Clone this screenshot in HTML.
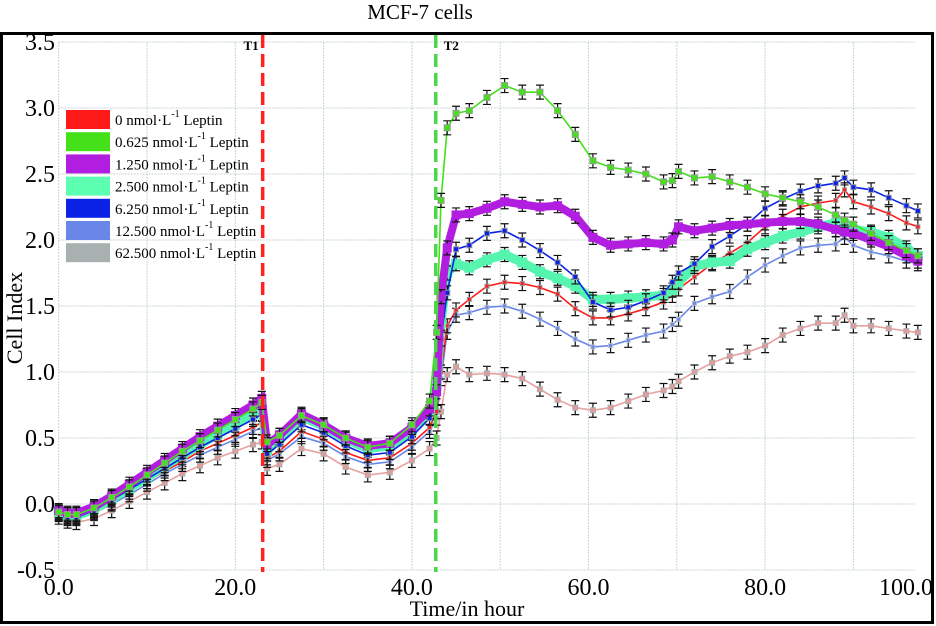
<!DOCTYPE html>
<html><head><meta charset="utf-8"><style>
body{margin:0;background:#fff;}
svg{display:block;font-family:"Liberation Serif",serif;}
</style></head><body>
<svg id="chart" width="936" height="626" viewBox="0 0 936 626" xmlns="http://www.w3.org/2000/svg">
<text x="420" y="19" font-size="21" text-anchor="middle">MCF-7 cells</text>
<rect x="1.5" y="33.5" width="931" height="589" fill="none" stroke="#000" stroke-width="3"/>
<g id="grid"></g>
<g id="axes"></g>
<g id="series"></g>
<g id="markers"></g>
<g id="legend"></g>
<text transform="translate(22,318) rotate(-90)" font-size="22" text-anchor="middle">Cell Index</text>
<text x="467" y="616" font-size="22" text-anchor="middle">Time/in hour</text>
</svg>
<script>
const times=[0,1,2,4,6,8,10,12,14,16,18,20,22,23,23.6,25,27.5,30,32.5,35,37.5,40,42,42.8,43.3,44,45,46.5,48.5,50.5,52.5,54.5,56.5,58.5,60.5,62.5,64.5,66.5,68.5,69.5,70.2,72,74,76,78,80,82,84,86,88,89,90,92,94,96,97.3];
const seriesNames=["0 nmol·L","0.625 nmol·L","1.250 nmol·L","2.500 nmol·L","6.250 nmol·L","12.500 nmol·L","62.500 nmol·L"];
const valsRed=[-0.07,-0.10,-0.10,-0.06,0.01,0.09,0.17,0.25,0.32,0.40,0.46,0.52,0.58,0.62,0.35,0.40,0.55,0.49,0.39,0.33,0.35,0.46,0.58,0.70,1.00,1.35,1.47,1.55,1.65,1.68,1.67,1.64,1.59,1.48,1.41,1.41,1.44,1.48,1.53,1.58,1.63,1.72,1.82,1.90,1.98,2.10,2.18,2.25,2.28,2.30,2.38,2.29,2.25,2.20,2.13,2.10];
const valsGreen=[-0.06,-0.08,-0.08,-0.03,0.05,0.13,0.22,0.31,0.40,0.48,0.56,0.64,0.72,0.77,0.47,0.52,0.67,0.60,0.50,0.43,0.46,0.60,0.78,1.30,2.30,2.85,2.96,2.98,3.08,3.17,3.12,3.12,2.98,2.80,2.60,2.55,2.53,2.50,2.44,2.45,2.52,2.47,2.48,2.44,2.40,2.35,2.32,2.29,2.25,2.19,2.15,2.12,2.05,1.98,1.92,1.88];
const valsPurple=[-0.05,-0.07,-0.07,-0.02,0.06,0.15,0.24,0.33,0.42,0.51,0.59,0.67,0.75,0.80,0.45,0.52,0.68,0.60,0.50,0.44,0.46,0.58,0.72,0.85,1.57,1.94,2.19,2.20,2.24,2.29,2.27,2.25,2.26,2.18,2.02,1.96,1.97,1.98,1.97,2.00,2.10,2.07,2.09,2.11,2.12,2.13,2.14,2.14,2.12,2.08,2.06,2.05,2.0,1.95,1.88,1.84];
const valsCyan=[-0.06,-0.09,-0.09,-0.04,0.04,0.12,0.20,0.29,0.37,0.45,0.53,0.60,0.68,0.72,0.40,0.50,0.66,0.59,0.49,0.42,0.44,0.56,0.70,0.90,1.37,1.75,1.82,1.79,1.85,1.89,1.83,1.76,1.71,1.65,1.55,1.55,1.56,1.57,1.58,1.62,1.68,1.80,1.83,1.84,1.93,1.98,2.03,2.06,2.10,2.13,2.12,2.08,2.06,2.02,1.94,1.88];
const valsBlue=[-0.07,-0.10,-0.10,-0.05,0.03,0.11,0.19,0.27,0.35,0.43,0.50,0.57,0.64,0.68,0.38,0.45,0.60,0.54,0.44,0.37,0.39,0.51,0.65,0.80,1.25,1.60,1.93,1.96,2.05,2.07,2.00,1.92,1.83,1.72,1.53,1.47,1.49,1.54,1.60,1.68,1.75,1.82,1.95,2.03,2.12,2.24,2.31,2.37,2.41,2.43,2.47,2.40,2.38,2.32,2.26,2.22];
const valsLightBlue=[-0.08,-0.11,-0.11,-0.07,0.00,0.07,0.15,0.23,0.30,0.37,0.43,0.49,0.55,0.58,0.33,0.38,0.51,0.46,0.36,0.30,0.32,0.43,0.55,0.65,0.95,1.30,1.43,1.45,1.49,1.50,1.46,1.40,1.33,1.25,1.19,1.20,1.24,1.28,1.31,1.36,1.40,1.52,1.57,1.61,1.72,1.81,1.88,1.94,1.96,1.97,2.02,1.96,1.91,1.88,1.84,1.82];
const valsGray=[-0.10,-0.13,-0.14,-0.11,-0.05,0.02,0.09,0.16,0.23,0.29,0.35,0.40,0.45,0.47,0.27,0.30,0.42,0.38,0.28,0.22,0.24,0.33,0.42,0.50,0.70,0.98,1.04,0.98,0.99,0.98,0.95,0.87,0.79,0.73,0.71,0.73,0.78,0.83,0.86,0.89,0.93,1.00,1.07,1.12,1.15,1.20,1.28,1.33,1.37,1.37,1.43,1.35,1.35,1.33,1.31,1.30];
const xTicks=[0,20,40,60,80,100];
const xTickLabels=["0.0","20.0","40.0","60.0","80.0","100.0"];
const yTicks=[-0.5,0,0.5,1,1.5,2,2.5,3,3.5];
const yTickLabels=["-0.5","0.0","0.5","1.0","1.5","2.0","2.5","3.0","3.5"];
const treatTimes=[23.1,42.7];
const treatLabels=["T1","T2"];

const NS="http://www.w3.org/2000/svg";
const X0=58.7,XS=8.83,Y0=504,YS=132,XR=915;
const xs=t=>X0+t*XS, ys=v=>Y0-v*YS;
function mk(tag,attrs,parent){const e=document.createElementNS(NS,tag);for(const k in attrs)e.setAttribute(k,attrs[k]);parent.appendChild(e);return e;}
const grid=document.getElementById('grid'),axes=document.getElementById('axes'),ser=document.getElementById('series'),mkg=document.getElementById('markers'),leg=document.getElementById('legend');
for(let t=0;t<=90;t+=10){const l=mk('line',{x1:xs(t),x2:xs(t),y1:ys(3.5),y2:ys(-0.5),stroke:'#c5d5d8','stroke-width':1,'stroke-dasharray':'2,1'},grid);

}
yTicks.forEach((v,i)=>{const l=mk('line',{x1:X0,x2:XR,y1:ys(v),y2:ys(v),stroke:'#c5d5d8','stroke-width':1,'stroke-dasharray':'2,1'},grid);


const t=mk('text',{x:55,y:ys(v)+8,'font-size':24,'text-anchor':'end'},axes);t.textContent=yTickLabels[i];

});
xTicks.forEach((v,i)=>{let x=xs(v),anc='middle';if(v===100){x=933;anc='end';}
const t=mk('text',{x:x,y:595,'font-size':24,'text-anchor':anc},axes);t.textContent=xTickLabels[i];

});
const defs=[
 {vals:valsGray,line:'#e8a0a0',mk:'#e89a9a',halo:'#a8b0b0',sz:5,name:'series-62-500'},
 {vals:valsLightBlue,line:'#6a86e8',mk:'#6a86e8',halo:'#b8c0d0',sz:4,name:'series-12-500'},
 {vals:valsRed,line:'#ff1a1a',mk:'#ff1a1a',halo:'#999',sz:4,name:'series-0'},
 {vals:valsCyan,line:'#55f5b0',mk:'#55f5b0',halo:'#55f5b0',sz:9,name:'series-2-500'},
 {vals:valsBlue,line:'#0a22e6',mk:'#0a22e6',halo:'#999',sz:5,name:'series-6-250'},
 {vals:valsPurple,line:'#b21ee0',mk:'#b21ee0',halo:'#b21ee0',sz:8,name:'series-1-250'},
 {vals:valsGreen,line:'#44e01a',mk:'#44e01a',halo:'#999',sz:6,name:'series-0-625'}];
defs.forEach(d=>{const g=mk('g',{},ser);


const pts=times.map((t,i)=>xs(t).toFixed(1)+','+ys(d.vals[i]).toFixed(1)).join(' ');
const pl=mk('polyline',{points:pts,fill:'none',stroke:d.line,'stroke-width':d.sz>6?d.sz:1.6},g);


times.forEach((t,i)=>{const x=xs(t),y=ys(d.vals[i]);
const e=mk('path',{d:`M${x-4},${y-7}h8M${x},${y-7}v14M${x-4},${y+7}h8`,stroke:'#111','stroke-width':1.2,fill:'none'},g);


const r=mk('rect',{x:x-d.sz/2,y:y-d.sz/2,width:d.sz,height:d.sz,fill:d.mk,stroke:d.halo,'stroke-width':1},g);

});});
const tcol=['#ff2020','#4ad84a'];
treatTimes.forEach((t,i)=>{const l=mk('line',{x1:xs(t),x2:xs(t),y1:35,y2:572,stroke:tcol[i],'stroke-width':3.5,'stroke-dasharray':'13,6'},mkg);


const tx=mk('text',{x:i===0?xs(t)-4:xs(t)+8,y:50,'font-size':13,'font-weight':'bold','text-anchor':i===0?'end':'start'},mkg);tx.textContent=treatLabels[i];

});
const lcol=['#ff1a1a','#44e01a','#b21ee0','#5cffb0','#0a22e6','#6a86e8','#a8b0b0'];
seriesNames.forEach((n,i)=>{const y=110+i*22.2;
const g=mk('g',{},leg);


mk('rect',{x:66,y:y,width:44,height:19,fill:lcol[i]},g);
const t=mk('text',{x:115,y:y+15,'font-size':15},g);
t.appendChild(document.createTextNode(n));
const s=mk('tspan',{dy:-8,'font-size':10},t);s.textContent='-1';
const s2=mk('tspan',{dy:8,'font-size':15},t);s2.textContent=' Leptin';});
</script>
</body></html>
